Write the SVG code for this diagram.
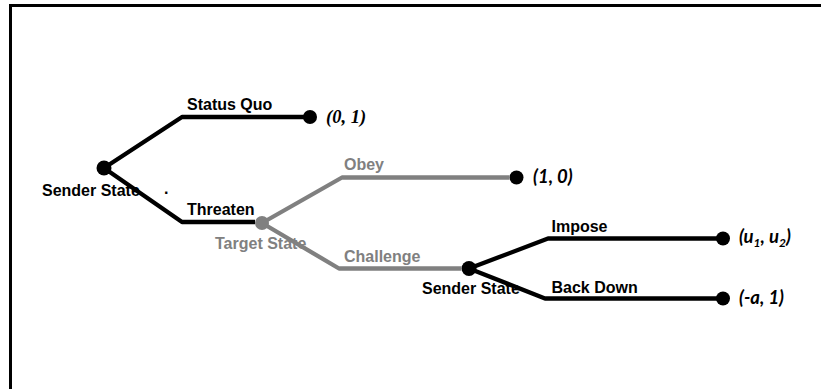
<svg xmlns="http://www.w3.org/2000/svg" width="821" height="389" viewBox="0 0 821 389">
<style>
.lbl{font-family:"Liberation Sans",Arial,sans-serif;font-weight:bold;font-size:16px;fill:#000}
.g{fill:#808080}
.pay{font-family:Lato,"Liberation Sans",sans-serif;font-weight:bold;font-style:italic;font-size:18.5px;fill:#000}
.payt{font-family:"Liberation Serif","Times New Roman",serif;font-weight:bold;font-style:italic;font-size:18.5px;fill:#000}
.sub{font-size:12px}
.e{fill:none;stroke:#000;stroke-width:4.3;stroke-linejoin:round}
.eg{fill:none;stroke:#808080;stroke-width:4.3;stroke-linejoin:round}
.dot{fill:#000}
.dotg{fill:#808080}
</style>
<rect width="821" height="389" fill="#fff"/>
<path d="M10.5,389 V5.5 H821" fill="none" stroke="#000" stroke-width="3"/>
<g id="sender1">
<circle class="dot" cx="104" cy="168" r="7.5"/>
<text class="lbl" x="42" y="196">Sender State</text>
<text class="lbl" x="164" y="194">.</text>
</g>
<g id="target">
<circle class="dotg" cx="262" cy="223" r="7"/>
<text class="lbl g" x="215" y="249">Target State</text>
</g>
<g id="sender2">
<circle class="dot" cx="469" cy="268.5" r="7.5"/>
<text class="lbl" x="422" y="294">Sender State</text>
</g>
<g id="t-sq">
<circle class="dot" cx="310" cy="117" r="7"/>
<text class="payt" x="326" y="122.5">(0, 1)</text>
</g>
<g id="t-obey">
<circle class="dot" cx="516.5" cy="177.5" r="7"/>
<text class="pay" x="533" y="183">(1, 0)</text>
</g>
<g id="t-impose">
<circle class="dot" cx="723" cy="238.5" r="7"/>
<text class="pay" x="739" y="243">(u<tspan class="sub" dy="4">1</tspan><tspan dy="-4">, u</tspan><tspan class="sub" dy="4">2</tspan><tspan dy="-4">)</tspan></text>
</g>
<g id="t-back">
<circle class="dot" cx="723" cy="298.5" r="7"/>
<text class="pay" x="739" y="304">(-a, 1)</text>
</g>
<g id="connectors">
<path class="e" d="M104,168 L182,117 H310"/>
<text class="lbl" x="187" y="110">Status Quo</text>
<path class="e" d="M104,168 L182,222 H255"/>
<text class="lbl" x="187" y="215">Threaten</text>
<path class="eg" d="M262,223 L342,177.5 H509.5"/>
<text class="lbl g" x="344" y="170">Obey</text>
<path class="eg" d="M262,223 L339,268.5 H461.5"/>
<text class="lbl g" x="344" y="262">Challenge</text>
<path class="e" d="M469,268.5 L548,238.5 H723"/>
<text class="lbl" x="551.5" y="232">Impose</text>
<path class="e" d="M469,268.5 L545,298.5 H723"/>
<text class="lbl" x="551.5" y="292.5">Back Down</text>
</g>
</svg>
